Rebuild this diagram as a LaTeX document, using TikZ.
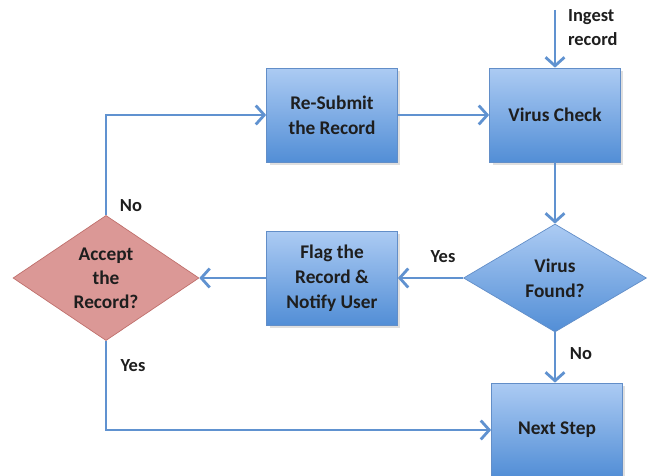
\documentclass[tikz,border=0pt]{standalone}
\usepackage{fontspec}
\setmainfont{Carlito}
\usetikzlibrary{shapes, shadows, positioning, arrows.meta, calc}
\definecolor{boxTop}{RGB}{172,203,243}
\definecolor{boxBottom}{RGB}{82,142,214}
\definecolor{boxLine}{RGB}{98,142,200}
\definecolor{flowLine}{RGB}{96,146,208}
\definecolor{redFill}{RGB}{219,152,150}
\definecolor{redLine}{RGB}{192,112,108}
\definecolor{textDark}{RGB}{30,30,30}
\newcommand{\labelFont}{\bfseries\fontsize{10.5}{14}\selectfont}
\tikzstyle{process}=[draw=boxLine, top color=boxTop, bottom color=boxBottom,
  minimum width=2.62cm, minimum height=1.88cm, align=center, text=textDark,
  font=\bfseries\fontsize{11}{14.3}\selectfont,
  drop shadow={opacity=0.25, shadow xshift=0.6mm, shadow yshift=-0.6mm}]
\tikzstyle{decision}=[diamond, draw=boxLine, top color=boxTop, bottom color=boxBottom,
  minimum width=3.66cm, minimum height=2.16cm, inner sep=0pt, align=center,
  text=textDark, font=\bfseries\fontsize{11}{14.3}\selectfont]
\tikzstyle{rejectDecision}=[diamond, draw=redLine, fill=redFill,
  minimum width=3.72cm, minimum height=2.2cm, inner sep=0pt, align=center,
  text=textDark, font=\bfseries\fontsize{11}{13.6}\selectfont]
\tikzstyle{arrow}=[draw=flowLine, line width=1.6pt,
  -{Straight Barb[length=1.7mm, width=3.8mm]}]
\tikzstyle{flowLabel}=[text=textDark, font=\labelFont, inner sep=1pt]

\begin{document}
\begin{tikzpicture}[x=0.02cm, y=-0.02cm]
    \useasboundingbox (0,0) rectangle (649,476);
    % boxes
    \node[process] (resubmit) at (332,115) {Re-Submit\\the Record};
    \node[process] (check) at (555,115) {Virus Check};
    \node[decision] (found) at (555,278) {Virus\\Found?};
    \node[process] (flag) at (332,278) {Flag the\\Record \&\\Notify User};
    \node[rejectDecision] (accept) at (106,278) {Accept\\the\\Record?};
    \node[process] (next) at (557,430) {Next Step};
    \coordinate (ingest) at (555,10);
    % connectors
    \draw[arrow] (ingest) -- (check.north);
    \draw[arrow] (resubmit) -- (check);
    \draw[arrow] (check) -- (found);
    \draw[arrow] (found) -- (flag);
    \draw[arrow] (flag) -- (accept);
    \draw[arrow] (accept.north) |- (resubmit.west);
    \draw[arrow] (accept.south) |- (next.west);
    \draw[arrow] (found.south) -- (found.south |- next.north);
    % labels
    \node[flowLabel, anchor=north west, align=left] (ingestText) at (566,7) {Ingest\\record};
    \node[flowLabel] (yesFound) at (443,257) {Yes};
    \node[flowLabel] (noFound) at (581,354) {No};
    \node[flowLabel] (noAccept) at (131,206) {No};
    \node[flowLabel] (yesAccept) at (133,366) {Yes};
\end{tikzpicture}
\end{document}
